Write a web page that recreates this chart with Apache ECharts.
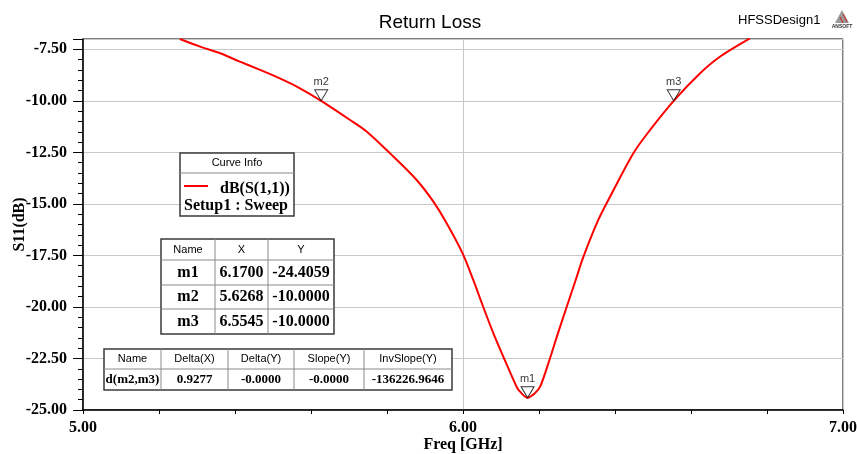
<!DOCTYPE html>
<html>
<head>
<meta charset="utf-8">
<script src="https://cdn.jsdelivr.net/npm/echarts@6/dist/echarts.min.js"></script>
<style>
  html, body { margin: 0; padding: 0; background: #fff; }
  #chart { width: 857px; height: 454px; }
</style>
</head>
<body>
<div id="chart"></div>
<script>
// S11 curve
const freq = [5.255, 5.308, 5.361, 5.413, 5.466, 5.518, 5.571, 5.6268, 5.703, 5.747, 5.808, 5.878,
  5.922, 5.957, 5.999, 6.027, 6.053, 6.080, 6.106, 6.141, 6.150, 6.170, 6.189, 6.203, 6.229,
  6.247, 6.273, 6.295, 6.317, 6.356, 6.387, 6.448, 6.492, 6.5545, 6.624, 6.676, 6.755];
const s11 = [-7.0, -7.37, -7.69, -8.10, -8.50, -8.91, -9.39, -10.0, -10.93, -11.50, -12.55, -13.84,
  -14.89, -15.94, -17.40, -18.69, -19.99, -21.28, -22.41, -23.87, -24.11, -24.41, -24.19, -23.87, -22.49,
  -21.44, -19.99, -18.78, -17.56, -15.78, -14.65, -12.55, -11.42, -10.0, -8.66, -7.86, -6.97];

// markers
const markerNames = ["m1", "m2", "m3"];
const markerX = [6.1700, 5.6268, 6.5545];
const markerY = [-24.4059, -10.0000, -10.0000];

// delta table
const deltaHeader = ["Name", "Delta(X)", "Delta(Y)", "Slope(Y)", "InvSlope(Y)"];
const deltaRow = ["d(m2,m3)", "0.9277", "-0.0000", "-0.0000", "-136226.9646"];

const serif = "'Liberation Serif', 'Times New Roman', serif";
const sans = "'Liberation Sans', Arial, sans-serif";

// builds a boxed table out of graphic elements
const buildTable = (cols, rows, cells, fonts) => {
  const els = [];
  const x0 = cols[0], x1 = cols[cols.length - 1];
  const y0 = rows[0], y1 = rows[rows.length - 1];
  els.push({ type: "rect", z: 100, shape: { x: x0, y: y0, width: x1 - x0, height: y1 - y0 },
    style: { fill: "#fff", stroke: "#3a3a3a", lineWidth: 1.5 } });
  for (let i = 1; i < cols.length - 1; i++) {
    els.push({ type: "line", z: 101, shape: { x1: cols[i], y1: y0, x2: cols[i], y2: y1 },
      style: { stroke: "#8a8a8a", lineWidth: 1 } });
  }
  for (let j = 1; j < rows.length - 1; j++) {
    els.push({ type: "line", z: 101, shape: { x1: x0, y1: rows[j], x2: x1, y2: rows[j] },
      style: { stroke: "#8a8a8a", lineWidth: 1 } });
  }
  cells.forEach((row, j) => {
    row.forEach((txt, i) => {
      els.push({ type: "text", z: 102,
        x: (cols[i] + cols[i + 1]) / 2, y: (rows[j] + rows[j + 1]) / 2,
        style: { text: txt, align: "center", verticalAlign: "middle", font: fonts[j], fill: "#000" } });
    });
  });
  return els;
};

const markerCells = [["Name", "X", "Y"]].concat(
  markerNames.map((n, i) => [n, markerX[i].toFixed(4), markerY[i].toFixed(4)])
);

const graphics = [
  // header right
  { type: "text", x: 738, y: 20, style: { text: "HFSSDesign1", font: "13px " + sans, fill: "#000", verticalAlign: "middle" } },
  // ansoft logo
  { type: "polygon", shape: { points: [[842, 10], [835, 23], [849, 23]] }, style: { fill: "#9a9a9a" } },
  { type: "line", shape: { x1: 840, y1: 17, x2: 843, y2: 23 }, style: { stroke: "#d02020", lineWidth: 1 } },
  { type: "line", shape: { x1: 843, y1: 14, x2: 847, y2: 22 }, style: { stroke: "#d02020", lineWidth: 1 } },
  { type: "text", x: 842, y: 27, style: { text: "ANSOFT", font: "bold 5px " + sans, fill: "#333", align: "center", verticalAlign: "middle" } },
  // curve info box
  { type: "rect", z: 100, shape: { x: 180, y: 153, width: 114, height: 63 }, style: { fill: "#fff", stroke: "#3a3a3a", lineWidth: 1.5 } },
  { type: "line", z: 101, shape: { x1: 180, y1: 173, x2: 294, y2: 173 }, style: { stroke: "#8a8a8a", lineWidth: 1 } },
  { type: "text", z: 102, x: 237, y: 163, style: { text: "Curve Info", font: "11px " + sans, fill: "#000", align: "center", verticalAlign: "middle" } },
  { type: "line", z: 102, shape: { x1: 184, y1: 186, x2: 208, y2: 186 }, style: { stroke: "#ff0000", lineWidth: 2 } },
  { type: "text", z: 102, x: 220, y: 189, style: { text: "dB(S(1,1))", font: "bold 16px " + serif, fill: "#000", verticalAlign: "middle" } },
  { type: "text", z: 102, x: 184, y: 206, style: { text: "Setup1 : Sweep", font: "bold 16px " + serif, fill: "#000", verticalAlign: "middle" } }
].concat(
  buildTable([161, 215, 268, 334], [239, 260, 285, 309, 334], markerCells,
    ["11px " + sans, "bold 16px " + serif, "bold 16px " + serif, "bold 16px " + serif]),
  buildTable([104, 161, 228, 294, 364, 452], [349, 369, 390], [deltaHeader, deltaRow],
    ["11px " + sans, "bold 13px " + serif])
);

const chart = echarts.init(document.getElementById("chart"));
chart.setOption({
  animation: false,
  backgroundColor: "#fff",
  title: {
    text: "Return Loss",
    left: 425,
    top: 8,
    textAlign: "center",
    textStyle: { fontFamily: sans, fontSize: 19, fontWeight: "normal", color: "#000" }
  },
  grid: {
    left: 83, right: 14, top: 39, bottom: 44,
    containLabel: false,
    outerBoundsMode: "none",
    show: true, borderColor: "#000", borderWidth: 1
  },
  xAxis: {
    type: "value",
    min: 5, max: 7, interval: 1,
    name: "Freq [GHz]",
    nameLocation: "middle",
    nameGap: 27,
    nameMoveOverlap: false,
    nameTextStyle: { fontFamily: serif, fontWeight: "bold", fontSize: 16, color: "#000" },
    axisLine: { lineStyle: { color: "#000", width: 1.5 } },
    axisTick: { show: true, length: 4, lineStyle: { color: "#000" } },
    minorTick: { show: true, splitNumber: 5, length: 4, lineStyle: { color: "#000" } },
    axisLabel: {
      margin: 10,
      fontFamily: serif, fontWeight: "bold", fontSize: 16, color: "#000",
      formatter: (v) => v.toFixed(2)
    },
    splitLine: { show: true, lineStyle: { color: "#c8c8c8", width: 1 } }
  },
  yAxis: {
    type: "value",
    min: -25, max: -7, interval: 2.5,
    name: "S11(dB)",
    nameLocation: "middle",
    nameGap: 55,
    nameMoveOverlap: false,
    nameTextStyle: { fontFamily: serif, fontWeight: "bold", fontSize: 16, color: "#000" },
    axisLine: { show: true, lineStyle: { color: "#000", width: 1.5 } },
    axisTick: { show: true, length: 10, lineStyle: { color: "#000" } },
    minorTick: { show: true, splitNumber: 5, length: 5, lineStyle: { color: "#000" } },
    axisLabel: {
      margin: 16,
      fontFamily: serif, fontWeight: "bold", fontSize: 16, color: "#000",
      formatter: (v) => (v > -7.1 ? "" : v.toFixed(2))
    },
    splitLine: { show: true, lineStyle: { color: "#c8c8c8", width: 1 } }
  },
  series: [
    {
      name: "dB(S(1,1))",
      type: "line",
      data: freq.map((f, i) => [f, s11[i]]),
      showSymbol: false,
      smooth: 0.3,
      clip: true,
      lineStyle: { color: "#ff0000", width: 2 },
      z: 3
    },
    {
      name: "markers",
      type: "scatter",
      data: markerNames.map((n, i) => ({ name: n, value: [markerX[i], markerY[i]] })),
      symbol: "path://M0,0 L12,0 L6,10 Z",
      symbolSize: [13, 11],
      symbolOffset: [0, -5.5],
      itemStyle: { color: "rgba(255,255,255,0)", borderColor: "#000", borderWidth: 1 },
      label: {
        show: true,
        position: "top",
        distance: 2,
        formatter: (p) => p.name,
        fontFamily: sans, fontSize: 11, color: "#000"
      },
      z: 4
    }
  ],
  graphic: graphics
});
</script>
</body>
</html>
